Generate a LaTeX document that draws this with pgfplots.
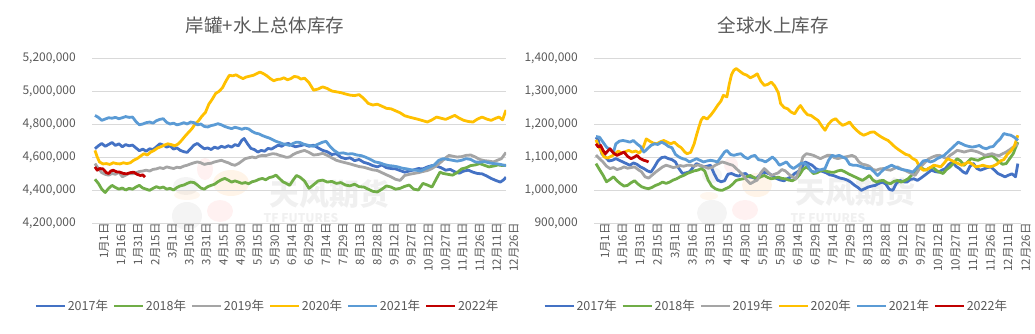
\documentclass[border=0pt]{standalone}
\usepackage{fontspec}
\setmainfont{Noto Sans CJK SC}
\usepackage{pgfplots}
\pgfplotsset{compat=1.18}
\definecolor{txt}{HTML}{595959}
\definecolor{gridc}{HTML}{D9D9D9}
\definecolor{c17}{HTML}{4472C4}
\definecolor{c18}{HTML}{70AD47}
\definecolor{c19}{HTML}{A5A5A5}
\definecolor{c20}{HTML}{FFC000}
\definecolor{c21}{HTML}{5B9BD5}
\definecolor{c22}{HTML}{C00000}
\pgfplotsset{
  base/.style={
    scale only axis, height=165pt,
    scaled y ticks=false,
    xtick={0,15,...,360},
    xticklabels={1月1日,1月16日,1月31日,2月15日,3月1日,3月16日,3月31日,4月15日,4月30日,5月15日,5月30日,6月14日,6月29日,7月14日,7月29日,8月13日,8月28日,9月12日,9月27日,10月12日,10月27日,11月11日,11月26日,12月11日,12月26日},
    xticklabel style={rotate=90, anchor=east, inner sep=0pt, yshift=-9pt, font=\fontsize{11.5}{12}\selectfont, text=txt},
    yticklabel style={anchor=east, inner sep=0pt, xshift=-16pt, font=\fontsize{12}{13}\selectfont, text=txt,
      /pgf/number format/fixed, /pgf/number format/1000 sep={,}},
    /pgf/number format/assume math mode=true,
    ymajorgrids, grid style={draw=gridc, line width=0.8pt},
    axis line style={draw=none}, major tick length=0pt, tick style={draw=none},
    legend columns=6,
    legend style={draw=none, fill=none, font=\fontsize{12.5}{13}\selectfont, text=txt, inner sep=0pt,
      nodes={inner sep=1.5pt},
      /tikz/every even column/.append style={column sep=3pt}},
    legend image code/.code={\draw[#1] (0pt,0pt) -- (29pt,0pt);},
    every axis plot/.append style={line width=2.8pt, line join=round, no markers},
  }
}
\begin{document}
\begin{tikzpicture}[x=1pt,y=1pt]
\path[use as bounding box] (0,0) rectangle (1035,334);
% watermarks
\begin{scope}[opacity=0.09]
\fill[gray] (186,148) ellipse (13 and 9);
\fill[red!60] (205,165) ellipse (8 and 11);
\fill[orange] (231,151) ellipse (18 and 13);
\fill[orange!70] (187,139) ellipse (13 and 5);
\fill[gray] (187,118) ellipse (15 and 14);
\fill[red!60] (220,123) ellipse (13 and 11);
\fill[gray] (712,159) ellipse (10 and 8);
\fill[red!60] (731,169) ellipse (7 and 8);
\fill[orange] (757,149) ellipse (15 and 12);
\fill[orange!70] (709,138) ellipse (9 and 4);
\fill[gray] (712,121) ellipse (15 and 13);
\fill[red!60] (745,124) ellipse (13 and 10);
\end{scope}
\node[text=black!6, inner sep=0pt, font=\fontsize{30}{30}\selectfont\bfseries] at (329,140) {天风期货};
\node[text=black!6, inner sep=0pt, font=\fontsize{12}{12}\selectfont\bfseries] at (301,116) {TF FUTURES};
\node[text=black!6, inner sep=0pt, font=\fontsize{30}{30}\selectfont\bfseries] at (855,142) {天风期货};
\node[text=black!6, inner sep=0pt, font=\fontsize{12}{12}\selectfont\bfseries] at (828,116) {TF FUTURES};
\node[text=txt, font=\fontsize{18.5}{20}\selectfont] at (265,309) {岸罐+水上总体库存};
\node[text=txt, font=\fontsize{18.5}{20}\selectfont] at (773,309) {全球水上库存};

\begin{axis}[base, at={(92pt,111pt)}, anchor=south west, width=414pt,
  xmin=-2.6, xmax=361,
  ymin=4200000, ymax=5200000,
  ytick={4200000,4400000,4600000,4800000,5000000,5200000},
  legend style={at={(0.423,-0.503)}, anchor=center}]
\addplot[c17] coordinates {(0,4650000) (3,4668000) (6,4682000) (9,4665000) (12,4676000) (15,4688000) (18,4670000) (21,4680000) (24,4662000) (27,4675000) (30,4668000) (33,4672000) (36,4655000) (39,4638000) (42,4648000) (45,4635000) (48,4650000) (51,4645000) (54,4662000) (57,4680000) (60,4672000) (63,4660000) (66,4668000) (69,4648000) (72,4655000) (75,4640000) (78,4632000) (81,4628000) (84,4650000) (87,4672000) (90,4682000) (93,4665000) (96,4650000) (99,4655000) (102,4645000) (105,4660000) (108,4652000) (111,4665000) (114,4658000) (117,4668000) (120,4660000) (123,4675000) (126,4668000) (129,4702000) (131,4712000) (134,4680000) (137,4652000) (140,4645000) (143,4630000) (146,4640000) (149,4635000) (152,4652000) (155,4648000) (158,4660000) (161,4672000) (164,4665000) (167,4678000) (170,4682000) (173,4670000) (176,4662000) (180,4668000) (184,4675000) (188,4665000) (192,4672000) (196,4655000) (200,4640000) (204,4632000) (208,4615000) (212,4620000) (216,4598000) (220,4590000) (224,4595000) (228,4578000) (232,4585000) (236,4568000) (240,4560000) (244,4548000) (248,4540000) (252,4552000) (256,4535000) (260,4530000) (264,4528000) (268,4518000) (272,4508000) (276,4515000) (280,4522000) (284,4530000) (288,4528000) (292,4540000) (296,4548000) (300,4545000) (304,4535000) (308,4520000) (312,4525000) (316,4510000) (320,4502000) (324,4515000) (328,4520000) (332,4508000) (336,4500000) (340,4498000) (344,4485000) (348,4470000) (352,4458000) (356,4448000) (359,4462000) (361,4478000)};
\addlegendentry{2017年}
\addplot[c18] coordinates {(0,4465000) (3,4440000) (6,4405000) (9,4385000) (12,4410000) (15,4428000) (18,4415000) (21,4405000) (24,4412000) (27,4400000) (30,4410000) (33,4405000) (36,4418000) (39,4428000) (42,4412000) (45,4405000) (48,4398000) (51,4410000) (54,4420000) (57,4412000) (60,4418000) (63,4405000) (66,4410000) (69,4400000) (72,4415000) (75,4425000) (78,4430000) (81,4440000) (84,4448000) (87,4445000) (90,4430000) (93,4412000) (96,4405000) (99,4420000) (102,4428000) (105,4435000) (108,4450000) (111,4462000) (114,4470000) (117,4460000) (120,4448000) (123,4455000) (126,4448000) (129,4440000) (132,4445000) (135,4438000) (138,4450000) (141,4455000) (144,4465000) (147,4470000) (150,4462000) (153,4475000) (156,4480000) (159,4490000) (162,4470000) (165,4450000) (168,4440000) (171,4428000) (174,4460000) (177,4488000) (180,4478000) (184,4455000) (188,4410000) (192,4432000) (196,4455000) (200,4460000) (204,4448000) (208,4452000) (212,4440000) (216,4445000) (220,4430000) (224,4425000) (228,4435000) (232,4420000) (236,4418000) (240,4405000) (244,4392000) (248,4388000) (252,4405000) (256,4425000) (260,4418000) (264,4405000) (268,4410000) (272,4422000) (276,4430000) (280,4405000) (284,4400000) (288,4440000) (292,4430000) (296,4418000) (300,4470000) (303,4508000) (306,4500000) (310,4495000) (314,4490000) (318,4505000) (322,4528000) (326,4535000) (330,4548000) (334,4552000) (338,4560000) (342,4550000) (346,4540000) (350,4545000) (354,4552000) (358,4548000) (361,4550000)};
\addlegendentry{2018年}
\addplot[c19] coordinates {(0,4560000) (3,4530000) (6,4505000) (9,4495000) (12,4490000) (15,4500000) (18,4495000) (21,4508000) (24,4480000) (27,4490000) (30,4500000) (33,4498000) (36,4505000) (39,4512000) (42,4515000) (45,4520000) (48,4515000) (51,4525000) (54,4528000) (57,4535000) (60,4530000) (63,4540000) (66,4535000) (69,4530000) (72,4538000) (75,4535000) (78,4545000) (81,4550000) (84,4558000) (87,4565000) (90,4570000) (93,4565000) (96,4555000) (99,4560000) (102,4562000) (105,4570000) (108,4575000) (111,4580000) (114,4572000) (117,4565000) (120,4555000) (123,4550000) (126,4560000) (129,4575000) (132,4590000) (135,4595000) (138,4600000) (141,4595000) (144,4605000) (147,4610000) (150,4608000) (153,4615000) (156,4620000) (159,4618000) (162,4610000) (165,4605000) (168,4598000) (171,4600000) (174,4615000) (177,4625000) (180,4632000) (184,4640000) (188,4628000) (192,4612000) (196,4615000) (200,4622000) (204,4610000) (208,4595000) (212,4580000) (216,4572000) (220,4565000) (224,4558000) (228,4550000) (232,4542000) (236,4538000) (240,4530000) (244,4522000) (248,4518000) (252,4505000) (256,4492000) (260,4480000) (264,4465000) (268,4458000) (272,4488000) (276,4495000) (280,4500000) (284,4505000) (288,4512000) (292,4518000) (296,4530000) (300,4548000) (304,4570000) (308,4595000) (311,4610000) (314,4605000) (318,4600000) (322,4602000) (326,4610000) (330,4612000) (334,4600000) (338,4585000) (342,4578000) (346,4575000) (350,4570000) (354,4582000) (357,4590000) (361,4628000)};
\addlegendentry{2019年}
\addplot[c20] coordinates {(0,4640000) (2,4600000) (4,4570000) (7,4558000) (10,4560000) (13,4555000) (16,4565000) (19,4560000) (22,4558000) (25,4565000) (28,4560000) (31,4565000) (34,4580000) (37,4590000) (40,4605000) (43,4620000) (46,4612000) (49,4630000) (52,4640000) (55,4655000) (58,4662000) (61,4672000) (64,4680000) (67,4675000) (70,4668000) (73,4678000) (76,4700000) (79,4725000) (82,4748000) (85,4770000) (88,4800000) (91,4820000) (94,4848000) (97,4870000) (100,4920000) (103,4950000) (106,4985000) (109,4998000) (112,5020000) (115,5060000) (118,5095000) (121,5092000) (124,5098000) (127,5085000) (130,5075000) (133,5085000) (136,5090000) (139,5095000) (142,5105000) (145,5115000) (148,5105000) (151,5092000) (154,5075000) (157,5062000) (160,5070000) (163,5072000) (166,5080000) (169,5068000) (172,5075000) (175,5088000) (178,5085000) (181,5072000) (184,5078000) (188,5050000) (192,5005000) (196,5012000) (200,5025000) (204,5015000) (208,5000000) (212,4995000) (216,4990000) (220,4982000) (224,4975000) (228,4972000) (232,4978000) (236,4955000) (240,4925000) (244,4915000) (248,4920000) (252,4908000) (256,4895000) (260,4892000) (264,4880000) (268,4868000) (272,4850000) (276,4842000) (280,4835000) (284,4828000) (288,4820000) (292,4812000) (296,4825000) (300,4842000) (304,4835000) (308,4828000) (312,4840000) (316,4852000) (320,4835000) (324,4822000) (328,4815000) (332,4812000) (336,4830000) (340,4842000) (344,4830000) (348,4822000) (352,4835000) (355,4842000) (358,4825000) (361,4885000)};
\addlegendentry{2020年}
\addplot[c21] coordinates {(0,4852000) (3,4840000) (6,4822000) (9,4830000) (12,4838000) (15,4835000) (18,4840000) (21,4832000) (24,4838000) (27,4845000) (30,4840000) (33,4842000) (36,4815000) (39,4795000) (42,4800000) (45,4808000) (48,4812000) (51,4805000) (54,4820000) (57,4828000) (60,4832000) (63,4810000) (66,4800000) (69,4805000) (72,4795000) (75,4800000) (78,4808000) (81,4800000) (84,4812000) (87,4808000) (90,4795000) (93,4800000) (96,4785000) (99,4782000) (102,4790000) (105,4795000) (108,4802000) (111,4795000) (114,4785000) (117,4778000) (120,4772000) (123,4780000) (126,4775000) (129,4768000) (132,4775000) (135,4770000) (138,4755000) (141,4745000) (144,4740000) (147,4730000) (150,4722000) (153,4715000) (156,4705000) (159,4695000) (162,4688000) (165,4680000) (168,4675000) (171,4670000) (174,4682000) (177,4690000) (180,4688000) (184,4676000) (188,4670000) (192,4665000) (196,4678000) (200,4690000) (203,4695000) (206,4668000) (210,4640000) (214,4622000) (218,4625000) (222,4618000) (226,4620000) (230,4612000) (234,4608000) (238,4598000) (242,4585000) (246,4570000) (250,4565000) (254,4555000) (258,4548000) (262,4545000) (266,4540000) (270,4532000) (274,4528000) (278,4522000) (282,4520000) (286,4515000) (290,4528000) (294,4540000) (298,4552000) (302,4580000) (306,4590000) (310,4585000) (314,4580000) (318,4575000) (322,4580000) (326,4590000) (330,4585000) (334,4570000) (338,4568000) (342,4572000) (346,4565000) (350,4560000) (354,4558000) (358,4552000) (361,4548000)};
\addlegendentry{2021年}
\addplot[c22] coordinates {(0,4540000) (2,4520000) (4,4530000) (7,4528000) (10,4505000) (12,4500000) (14,4515000) (16,4520000) (19,4510000) (22,4508000) (25,4500000) (28,4498000) (31,4505000) (34,4508000) (37,4495000) (40,4488000) (42,4492000) (44,4478000)};
\addlegendentry{2022年}
\end{axis}

\begin{axis}[base, at={(594pt,111pt)}, anchor=south west, width=427pt,
  xmin=-1.7, xmax=363.7,
  ymin=900000, ymax=1400000,
  ytick={900000,1000000,1100000,1200000,1300000,1400000},
  legend style={at={(0.426,-0.503)}, anchor=center}]
\addplot[c17] coordinates {(0,1160000) (2,1150000) (5,1110000) (8,1100000) (11,1088000) (14,1090000) (17,1095000) (20,1090000) (23,1085000) (26,1080000) (29,1075000) (32,1082000) (35,1078000) (38,1070000) (41,1065000) (44,1058000) (47,1054000) (50,1070000) (53,1088000) (56,1098000) (59,1100000) (62,1095000) (65,1092000) (68,1085000) (71,1065000) (74,1050000) (77,1052000) (80,1055000) (83,1068000) (86,1080000) (89,1075000) (92,1070000) (95,1072000) (98,1075000) (101,1050000) (104,1030000) (107,1025000) (110,1028000) (113,1048000) (116,1050000) (119,1045000) (122,1042000) (125,1048000) (128,1050000) (131,1040000) (134,1038000) (137,1034000) (140,1045000) (143,1054000) (146,1052000) (149,1048000) (152,1040000) (155,1034000) (158,1030000) (161,1028000) (164,1035000) (167,1040000) (170,1050000) (173,1056000) (176,1068000) (179,1085000) (182,1080000) (185,1075000) (188,1065000) (191,1060000) (194,1056000) (197,1052000) (200,1046000) (203,1044000) (206,1040000) (209,1036000) (212,1034000) (215,1030000) (218,1024000) (221,1015000) (224,1008000) (227,999000) (230,1004000) (233,1009000) (236,1012000) (239,1014000) (242,1020000) (245,1024000) (248,1018000) (251,1002000) (254,999000) (257,1020000) (260,1029000) (263,1025000) (266,1024000) (269,1032000) (272,1034000) (275,1029000) (278,1036000) (281,1044000) (284,1052000) (287,1060000) (290,1056000) (293,1054000) (296,1060000) (299,1065000) (302,1078000) (305,1085000) (308,1072000) (311,1065000) (314,1055000) (317,1050000) (320,1072000) (323,1080000) (326,1065000) (329,1060000) (332,1064000) (335,1068000) (338,1070000) (341,1060000) (344,1050000) (347,1045000) (350,1040000) (353,1045000) (356,1049000) (359,1040000) (361,1080000)};
\addlegendentry{2017年}
\addplot[c18] coordinates {(0,1080000) (3,1062000) (6,1045000) (9,1025000) (12,1032000) (15,1040000) (18,1028000) (21,1019000) (24,1012000) (27,1014000) (30,1022000) (33,1028000) (36,1018000) (39,1010000) (42,1006000) (45,1004000) (48,1008000) (51,1014000) (54,1018000) (57,1024000) (60,1020000) (63,1024000) (66,1030000) (69,1034000) (72,1040000) (75,1044000) (78,1050000) (81,1054000) (84,1058000) (87,1060000) (90,1065000) (93,1058000) (96,1030000) (99,1012000) (102,1004000) (105,1000000) (108,999000) (111,1004000) (114,1009000) (117,1018000) (120,1029000) (123,1032000) (126,1034000) (129,1040000) (132,1044000) (135,1038000) (138,1034000) (141,1040000) (144,1044000) (147,1038000) (150,1034000) (153,1036000) (156,1039000) (159,1035000) (162,1034000) (165,1030000) (168,1028000) (171,1034000) (174,1045000) (177,1062000) (180,1070000) (183,1062000) (186,1050000) (189,1052000) (192,1058000) (195,1060000) (198,1056000) (201,1054000) (204,1054000) (207,1058000) (210,1060000) (213,1055000) (216,1049000) (219,1044000) (222,1039000) (225,1034000) (228,1029000) (231,1036000) (234,1044000) (237,1030000) (240,1024000) (243,1028000) (246,1029000) (249,1022000) (252,1019000) (255,1026000) (258,1029000) (261,1024000) (264,1028000) (267,1034000) (270,1044000) (273,1054000) (276,1075000) (279,1066000) (282,1060000) (285,1066000) (288,1070000) (291,1060000) (294,1054000) (297,1050000) (300,1062000) (303,1070000) (306,1082000) (309,1095000) (312,1088000) (315,1075000) (318,1085000) (321,1095000) (324,1092000) (327,1090000) (330,1095000) (333,1100000) (336,1102000) (339,1105000) (342,1095000) (345,1085000) (348,1078000) (351,1080000) (354,1095000) (357,1110000) (359,1128000) (361,1145000)};
\addlegendentry{2018年}
\addplot[c19] coordinates {(0,1106000) (3,1095000) (6,1085000) (9,1072000) (12,1065000) (15,1068000) (18,1062000) (21,1065000) (24,1070000) (27,1066000) (30,1068000) (33,1070000) (36,1062000) (39,1055000) (42,1040000) (45,1036000) (48,1045000) (51,1054000) (54,1062000) (57,1070000) (60,1075000) (63,1072000) (66,1068000) (69,1070000) (72,1074000) (75,1072000) (78,1075000) (81,1075000) (84,1072000) (87,1076000) (90,1074000) (93,1070000) (96,1066000) (99,1068000) (102,1075000) (105,1080000) (108,1085000) (111,1082000) (114,1078000) (117,1075000) (120,1065000) (123,1055000) (126,1044000) (129,1030000) (132,1019000) (135,1025000) (138,1030000) (141,1052000) (144,1065000) (147,1055000) (150,1044000) (153,1048000) (156,1052000) (159,1062000) (162,1058000) (165,1048000) (168,1040000) (171,1034000) (174,1060000) (177,1100000) (180,1110000) (183,1108000) (186,1105000) (189,1100000) (192,1095000) (195,1100000) (198,1105000) (201,1105000) (204,1098000) (207,1095000) (210,1098000) (213,1100000) (216,1102000) (219,1105000) (222,1100000) (225,1085000) (228,1078000) (231,1076000) (234,1072000) (237,1062000) (240,1060000) (243,1064000) (246,1065000) (249,1062000) (252,1060000) (255,1065000) (258,1070000) (261,1064000) (264,1060000) (267,1055000) (270,1050000) (273,1044000) (276,1060000) (279,1075000) (282,1085000) (285,1095000) (288,1100000) (291,1104000) (294,1105000) (297,1100000) (300,1095000) (303,1105000) (306,1112000) (309,1120000) (312,1118000) (315,1115000) (318,1118000) (321,1120000) (324,1118000) (327,1115000) (330,1110000) (333,1105000) (336,1108000) (339,1110000) (342,1106000) (345,1104000) (348,1110000) (351,1115000) (354,1122000) (357,1130000) (361,1140000)};
\addlegendentry{2019年}
\addplot[c20] coordinates {(0,1152000) (2,1135000) (4,1121000) (7,1100000) (10,1097000) (13,1102000) (16,1108000) (19,1118000) (22,1112000) (25,1116000) (28,1120000) (31,1115000) (34,1118000) (37,1112000) (40,1125000) (43,1155000) (46,1148000) (49,1142000) (52,1140000) (55,1146000) (58,1150000) (61,1145000) (64,1140000) (67,1145000) (70,1135000) (73,1128000) (76,1115000) (78,1110000) (81,1114000) (84,1140000) (86,1166000) (88,1190000) (90,1212000) (92,1221000) (95,1215000) (98,1226000) (101,1240000) (104,1256000) (107,1270000) (109,1287000) (112,1282000) (114,1320000) (116,1350000) (118,1363000) (120,1368000) (123,1360000) (126,1352000) (129,1348000) (132,1340000) (135,1345000) (138,1352000) (141,1330000) (144,1317000) (147,1320000) (150,1327000) (153,1315000) (156,1295000) (158,1262000) (161,1250000) (164,1246000) (167,1236000) (170,1231000) (173,1248000) (175,1256000) (178,1240000) (181,1228000) (184,1226000) (187,1218000) (190,1211000) (193,1195000) (196,1181000) (199,1200000) (202,1211000) (205,1216000) (208,1205000) (211,1196000) (214,1200000) (217,1206000) (220,1192000) (223,1181000) (226,1172000) (229,1166000) (232,1170000) (235,1175000) (238,1176000) (241,1168000) (244,1161000) (247,1155000) (250,1150000) (253,1140000) (256,1130000) (259,1122000) (262,1115000) (265,1108000) (268,1105000) (271,1095000) (274,1090000) (277,1070000) (280,1060000) (283,1062000) (286,1068000) (289,1075000) (292,1073000) (295,1070000) (298,1082000) (301,1095000) (304,1090000) (307,1085000) (310,1080000) (313,1075000) (316,1080000) (319,1085000) (322,1078000) (325,1070000) (328,1072000) (331,1075000) (334,1072000) (337,1070000) (340,1073000) (343,1078000) (346,1088000) (349,1092000) (352,1108000) (355,1118000) (358,1133000) (361,1166000)};
\addlegendentry{2020年}
\addplot[c21] coordinates {(0,1162000) (3,1160000) (6,1145000) (9,1130000) (12,1122000) (15,1115000) (17,1140000) (20,1148000) (23,1150000) (26,1148000) (29,1145000) (32,1150000) (35,1140000) (38,1132000) (41,1115000) (44,1125000) (47,1135000) (50,1140000) (53,1138000) (56,1145000) (59,1140000) (62,1132000) (65,1128000) (68,1108000) (71,1100000) (74,1095000) (77,1092000) (80,1085000) (83,1090000) (86,1095000) (89,1090000) (92,1085000) (95,1088000) (98,1090000) (101,1088000) (104,1085000) (107,1100000) (110,1115000) (112,1120000) (115,1108000) (118,1105000) (121,1108000) (124,1110000) (127,1100000) (130,1095000) (133,1102000) (136,1105000) (139,1092000) (142,1090000) (145,1085000) (148,1092000) (151,1100000) (154,1090000) (157,1075000) (160,1080000) (163,1085000) (166,1072000) (169,1065000) (172,1072000) (175,1080000) (178,1082000) (181,1075000) (184,1058000) (187,1054000) (190,1060000) (193,1062000) (196,1065000) (199,1090000) (202,1105000) (205,1102000) (208,1105000) (211,1100000) (214,1095000) (217,1078000) (220,1075000) (223,1075000) (226,1072000) (229,1068000) (232,1065000) (235,1065000) (238,1055000) (241,1044000) (244,1055000) (247,1065000) (250,1070000) (253,1075000) (256,1070000) (259,1065000) (262,1062000) (265,1060000) (268,1058000) (271,1054000) (274,1065000) (277,1075000) (280,1088000) (283,1090000) (286,1085000) (289,1088000) (292,1095000) (295,1100000) (298,1105000) (301,1115000) (304,1125000) (307,1135000) (310,1145000) (313,1140000) (316,1135000) (319,1132000) (322,1130000) (325,1132000) (328,1135000) (331,1128000) (334,1125000) (337,1130000) (340,1132000) (343,1145000) (346,1155000) (349,1171000) (352,1168000) (355,1166000) (358,1160000) (361,1150000)};
\addlegendentry{2021年}
\addplot[c22] coordinates {(0,1140000) (2,1130000) (4,1135000) (6,1120000) (8,1110000) (10,1118000) (12,1125000) (15,1112000) (18,1105000) (21,1110000) (24,1115000) (27,1102000) (30,1095000) (33,1100000) (35,1105000) (38,1095000) (41,1090000) (43,1088000) (45,1085000)};
\addlegendentry{2022年}
\end{axis}
\end{tikzpicture}
\end{document}
